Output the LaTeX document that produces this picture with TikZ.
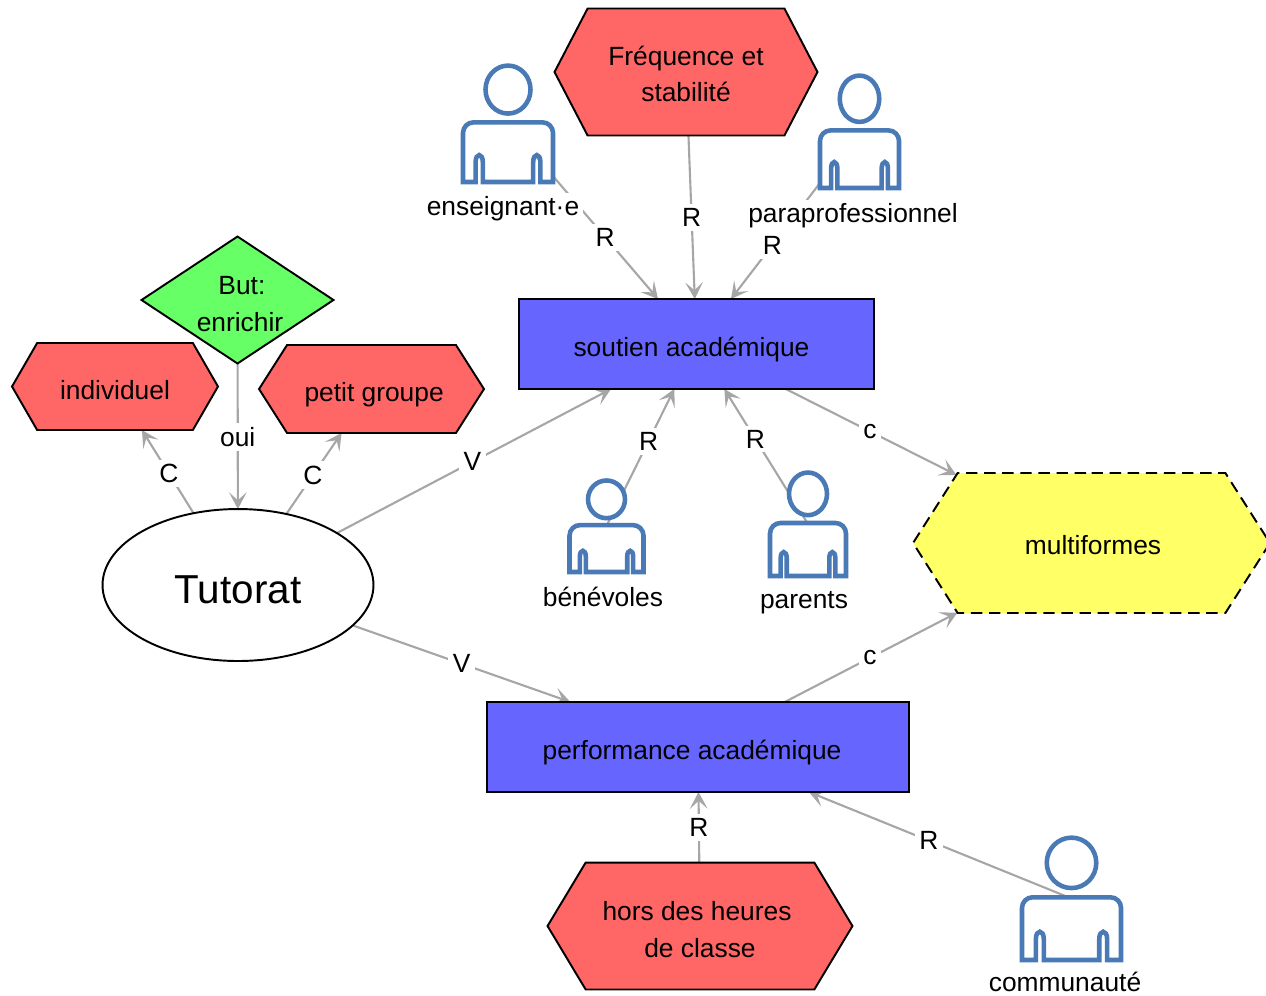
\documentclass[tikz,border=0pt]{standalone}
\usepackage{fontspec}
\setmainfont{Liberation Sans}
\usetikzlibrary{arrows.meta,backgrounds,shapes.geometric,shapes.symbols}

\definecolor{redfill}{HTML}{FF6666}
\definecolor{bluefill}{HTML}{6666FF}
\definecolor{greenfill}{HTML}{66FF66}
\definecolor{yellowfill}{HTML}{FFFF66}
\definecolor{personblue}{HTML}{4A7AB5}
\definecolor{arcgrey}{HTML}{A6A6A6}

\tikzset{
  hexa/.style={signal, signal to=west and east, draw=black, line width=1.1pt, align=center, inner sep=0pt, outer sep=0pt},
  block/.style={rectangle, draw=black, line width=1.1pt, fill=bluefill, inner sep=0pt, outer sep=0pt},
  arc/.style={draw=arcgrey, line width=1.2pt, -{Stealth[length=9.5pt, width=10pt, inset=4.5pt]}},
  lbl/.style={fill=white, inner sep=2.5pt},
  txt/.style={inner sep=0pt},
  nudge/.style 2 args={execute at begin node={\hspace*{#1}\rule{0pt}{#2}}},
  person/.pic={
    \draw[personblue, line width=2.6pt, fill=white] (0,-.29) circle [x radius=.25, y radius=.205];
    \draw[personblue, line width=2.6pt, fill=white, line join=miter]
      (-.5,.5) [rounded corners=6pt] -- (-.5,-.01) -- (.5,-.01) [sharp corners] -- (.5,.5) -- (.36,.5)
      -- (.36,.33) .. controls (.36,.25) and (.28,.25) .. (.28,.33) -- (.28,.5) -- (-.28,.5)
      -- (-.28,.33) .. controls (-.28,.25) and (-.36,.25) .. (-.36,.33) -- (-.36,.5) -- cycle;
  }
}

\begin{document}
\begin{tikzpicture}[x=0.02cm, y=-0.02cm, font=\fontsize{15}{21}\selectfont]

\useasboundingbox (0,0) rectangle (1266,995);

% Centre
\node[ellipse, draw=black, line width=1.1pt, fill=white, minimum width=5.42cm, minimum height=3.04cm, inner sep=0pt, outer sep=0pt, font=\fontsize{23}{27}\selectfont, nudge={0pt}{21.5pt}] (tutorat) at (238,585) {Tutorat};

% Left group
\node[diamond, aspect=1.51, draw=black, line width=1.1pt, fill=greenfill, minimum width=3.84cm, minimum height=2.54cm, inner sep=0pt, outer sep=0pt, align=center] (but) at (237.5,300) {\rule{0pt}{15.4pt}\hspace*{5pt}But:\\\hspace*{2.8pt}enrichir};
\node[hexa, fill=redfill, minimum width=4.12cm, minimum height=1.74cm, signal pointer angle=120, nudge={0pt}{15.4pt}] (individuel) at (115,386.5) {individuel};
\node[hexa, fill=redfill, minimum width=4.5cm, minimum height=1.76cm, signal pointer angle=115, nudge={3pt}{17.7pt}] (petit) at (371.5,389) {petit groupe};

% Blocks
\node[block, minimum width=7.1cm, minimum height=1.8cm, nudge={-5.7pt}{17.1pt}] (soutien) at (696.5,344) {soutien académique};
\node[block, minimum width=8.44cm, minimum height=1.8cm, nudge={-6.8pt}{17.7pt}] (performance) at (698,747) {performance académique};

% Red hexagons
\node[hexa, fill=redfill, minimum width=5.26cm, minimum height=2.54cm, signal pointer angle=125] (frequence) at (686,72) {\rule{0pt}{13.2pt}Fréquence et\\stabilité};
\node[hexa, fill=redfill, minimum width=6.1cm, minimum height=2.54cm, signal pointer angle=118] (hors) at (700,926) {\rule{0pt}{15.4pt}\hspace*{-3.4pt}hors des heures\\de classe};

% Yellow hexagon
\node[hexa, dash pattern=on 6.5pt off 3.8pt, fill=yellowfill, minimum width=7.14cm, minimum height=2.8cm, signal pointer angle=115, nudge={1.7pt}{13.7pt}] (multiformes) at (1091.5,543) {multiformes};

% People
\coordinate (enseignant) at (508,123.5);
\coordinate (para) at (859.5,131.5);
\coordinate (benevoles) at (606.5,526);
\coordinate (parents) at (808,524);
\coordinate (communaute) at (1071.5,898.5);

\pic[xscale=90, yscale=117] at (enseignant) {person};
\pic[xscale=79, yscale=113] at (para) {person};
\pic[xscale=74, yscale=92] at (benevoles) {person};
\pic[xscale=76, yscale=104] at (parents) {person};
\pic[xscale=99, yscale=123] at (communaute) {person};

\node[txt, fill=white, inner sep=2pt] (enseignantlabel) at (503,209) {enseignant·e};
\node[txt, fill=white, inner sep=2pt] (paralabel) at (853,216) {paraprofessionnel};
\node[txt] (benevoleslabel) at (603,597) {bénévoles};
\node[txt] (parentslabel) at (804,603) {parents};
\node[txt] (communautelabel) at (1065,982) {communauté};

% Arcs
\begin{scope}[on background layer]
\draw[arc] (enseignant) -- node[lbl, pos=.647] {R} (soutien);
\draw[arc] (frequence) -- node[lbl, pos=.5] {R} (soutien);
\draw[arc] (para) -- node[lbl, pos=.678] {R} (soutien);
\draw[arc] (benevoles) -- node[lbl, pos=.62] {R} (soutien);
\draw[arc] (parents) -- node[lbl, pos=.63] {R} (soutien);
\draw[arc] (soutien) -- node[lbl, pos=.494] {c} (multiformes);
\draw[arc] (performance) -- node[lbl, pos=.494] {c} (multiformes);
\draw[arc] (tutorat) -- node[lbl, pos=.494] {V} (soutien);
\draw[arc] (tutorat) -- node[lbl, pos=.5] {V} (performance);
\draw[arc] (tutorat) -- node[lbl, pos=.476] {C} (individuel);
\draw[arc] (tutorat) -- node[lbl, pos=.48] {C} (petit);
\draw[arc] (but) -- node[lbl, pos=.503] {oui} (tutorat);
\draw[arc] (hors) -- node[lbl, pos=.5] {R} (performance);
\draw[arc] (communaute) -- node[lbl, pos=.543] {R} (performance);
\end{scope}

\end{tikzpicture}
\end{document}
